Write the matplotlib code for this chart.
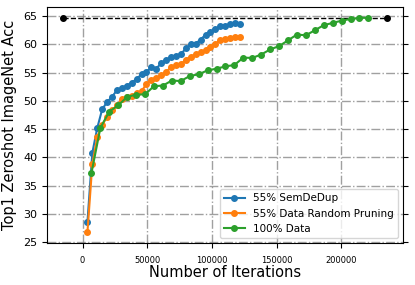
import numpy as np
import matplotlib
matplotlib.use("Agg")
import matplotlib.pyplot as plt

# iterations at each checkpoint
iters_pruned = [3800, 7600, 11400, 15200, 19000, 22800, 26600, 30400, 34200, 38000,
                41800, 45600, 49400, 53200, 57000, 60800, 64600, 68400, 72200, 76000,
                79800, 83600, 87400, 91200, 95000, 98800, 102600, 106400, 110200, 114000,
                117800, 121600]
iters_full = [6900, 13800, 20700, 27600, 34500, 41400, 48300, 55200, 62100, 69000,
              75900, 82800, 89700, 96600, 103500, 110400, 117300, 124200, 131100, 138000,
              144900, 151800, 158700, 165600, 172500, 179400, 186300, 193200, 200100, 207000,
              213900, 220800]

acc_semdedup = [28.5, 40.8, 45.2, 48.5, 49.8, 50.7, 51.9, 52.3, 52.7, 53.2,
                53.9, 54.7, 55.05, 56.0, 55.7, 56.7, 57.3, 57.7, 58.0, 58.25,
                59.3, 60.0, 60.15, 60.85, 61.7, 62.2, 62.75, 63.2, 63.2, 63.6,
                63.7, 63.65]
acc_random = [26.7, 38.8, 43.6, 45.8, 47.1, 48.3, 49.2, 50.3, 50.7, 50.85,
              51.4, 51.7, 53.0, 53.75, 54.1, 54.5, 55.1, 56.0, 56.3, 56.5,
              57.3, 57.8, 58.25, 58.6, 59.0, 59.6, 60.15, 60.7, 60.95, 61.2,
              61.3, 61.3]
acc_full = [37.2, 45.2, 48.1, 49.2, 50.7, 51.1, 51.15, 52.6, 52.7, 53.6,
            53.5, 54.4, 54.7, 55.4, 55.7, 56.1, 56.35, 57.65, 57.6, 58.2,
            59.1, 59.7, 60.7, 61.75, 61.6, 62.5, 63.4, 63.8, 64.2, 64.5,
            64.7, 64.7]

ref_x = [-15000, 235000]
ref_acc = 64.6

fig = plt.figure(figsize=(4.15, 2.85), dpi=100)
ax = fig.add_axes([0.113, 0.147, 0.858, 0.828])

ax.plot(ref_x, [ref_acc, ref_acc], "k--", marker="o", markersize=4, linewidth=1)
ax.plot(iters_pruned, acc_semdedup, marker="o", markersize=4, linewidth=1.5, label="55% SemDeDup")
ax.plot(iters_pruned, acc_random, marker="o", markersize=4, linewidth=1.5, label="55% Data Random Pruning")
ax.plot(iters_full, acc_full, marker="o", markersize=4, linewidth=1.5, label="100% Data")

ax.grid(True, linestyle="-.", color="gray", linewidth=1, alpha=0.75)
ax.tick_params(right=True)
ax.tick_params(axis="x", labelsize=6, pad=6)
ax.tick_params(axis="y", labelsize=8)
ax.set_xlabel("Number of Iterations", fontsize=10.5, labelpad=0)
ax.set_ylabel("Top1 Zeroshot ImageNet Acc", fontsize=10.5)
ax.legend(loc="lower right", fontsize=7.5)

fig.savefig("out.png", dpi=100)
